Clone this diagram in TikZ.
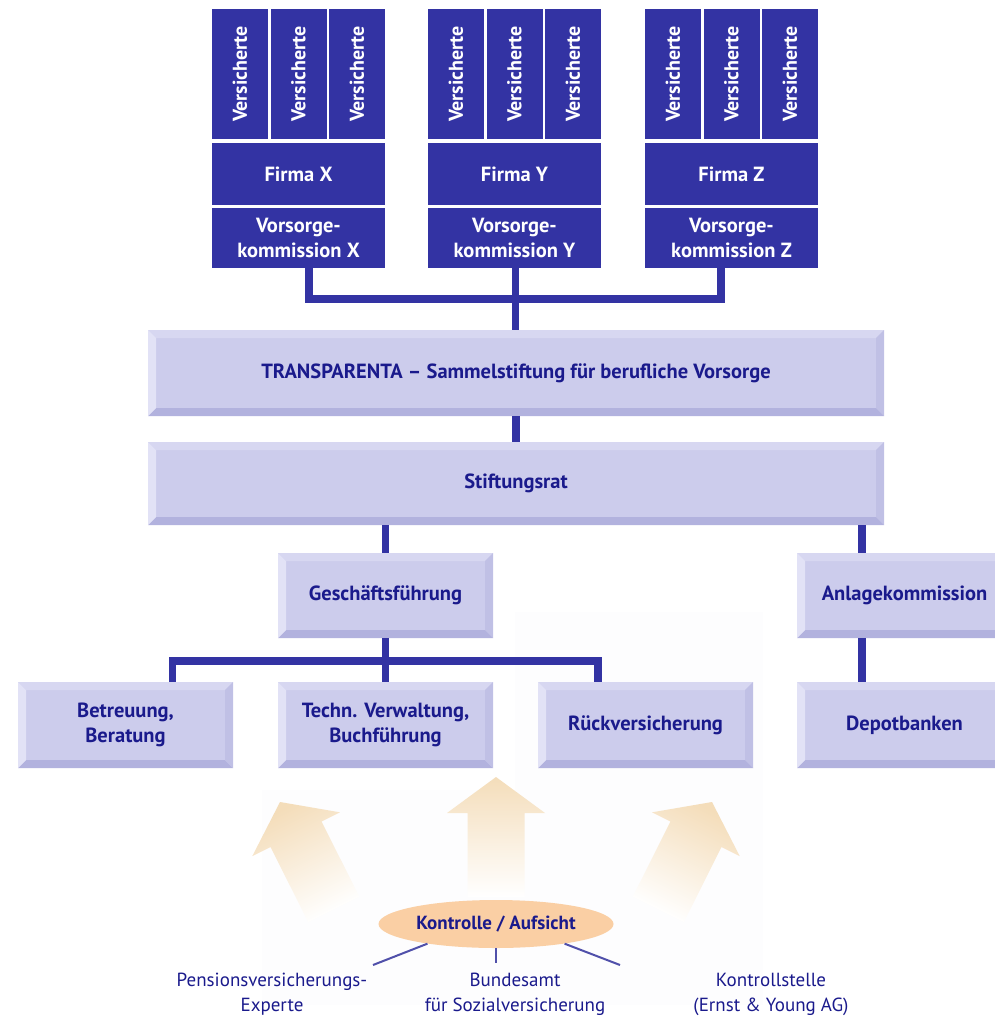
\documentclass[tikz,border=0pt]{standalone}
\usepackage{fontspec}
\usepackage{graphicx}
\setmainfont{PT Sans}
\usetikzlibrary{shapes.geometric}
\definecolor{dkc}{RGB}{51,51,163}
\definecolor{boxc}{RGB}{204,204,236}
\definecolor{bevT}{RGB}{215,215,241}
\definecolor{bevL}{RGB}{226,226,246}
\definecolor{bevR}{RGB}{192,192,229}
\definecolor{bevB}{RGB}{178,178,222}
\definecolor{txtc}{RGB}{26,26,140}
\definecolor{arrc}{RGB}{244,221,186}
\definecolor{ellc}{RGB}{250,207,164}
\definecolor{linc}{RGB}{80,80,170}
\definecolor{glowc}{RGB}{253,253,254}
\newcommand\bxfont{\fontsize{20.5}{25}\selectfont\bfseries}
\newcommand\vsfont{\fontsize{20}{22}\selectfont\bfseries}
\newcommand\lbfont{\fontsize{19}{25}\selectfont}
\begin{document}
\begin{tikzpicture}[x=1pt,y=-1pt,
  dcell/.style={fill=dkc, text=white, inner sep=0pt, align=center},
  lbox/.style={fill=boxc, text=txtc, inner sep=0pt, align=center,
    minimum width=215pt, minimum height=86pt, font=\bxfont,
    path picture={
      \coordinate (bsw) at (path picture bounding box.south west);
      \coordinate (bne) at (path picture bounding box.north east);
      \coordinate (bnw) at (path picture bounding box.north west);
      \coordinate (bse) at (path picture bounding box.south east);
      \fill[bevT] (bnw) -- (bne) -- ([shift={(-8pt,-8pt)}]bne) -- ([shift={(8pt,-8pt)}]bnw) -- cycle;
      \fill[bevB] (bsw) -- (bse) -- ([shift={(-8pt,8pt)}]bse) -- ([shift={(8pt,8pt)}]bsw) -- cycle;
      \fill[bevL] (bnw) -- ([shift={(8pt,-8pt)}]bnw) -- ([shift={(8pt,8pt)}]bsw) -- (bsw) -- cycle;
      \fill[bevR] (bne) -- ([shift={(-8pt,-8pt)}]bne) -- ([shift={(-8pt,8pt)}]bse) -- (bse) -- cycle;
    }},
  conn/.style={draw=dkc, line width=7.5pt},
  thin/.style={draw=linc, line width=2pt},
  lab/.style={text=txtc, font=\lbfont, align=center, inner sep=0pt, anchor=north},
  arrowsh/.style={top color=arrc, middle color=arrc!55!white, bottom color=white}
]
\useasboundingbox (0,0) rectangle (994,1019);
% faint glow background
\fill[glowc] (515,612) rectangle (763,1005);
\fill[glowc] (262,790) rectangle (763,1005);
% control arrows
\shade[arrowsh, shading angle=26.57] (280,802) -- (339.9,812.3) -- (321.6,821.5) -- (359.2,896.6) -- (308.2,922.1) -- (270.6,847.0) -- (252.3,856.1) -- cycle;
\shade[arrowsh, shading angle=-26.57] (712,802) -- (652.1,812.3) -- (670.4,821.5) -- (632.8,896.6) -- (683.8,922.1) -- (721.4,847.0) -- (739.7,856.1) -- cycle;
\shade[arrowsh] (496,777) -- (545,813) -- (524.5,813) -- (524.5,897) -- (467.5,897) -- (467.5,813) -- (447,813) -- cycle;
% top columns
\foreach \cn/\cx/\L in {X/212/x, Y/428/y, Z/645/z}{
  \node[dcell, minimum width=56pt, minimum height=130pt, font=\vsfont] (\L v1) at (\cx+28,74) {\rotatebox{90}{Versicherte}};
  \node[dcell, minimum width=56pt, minimum height=130pt, font=\vsfont] (\L v2) at (\cx+86.5,74) {\rotatebox{90}{Versicherte}};
  \node[dcell, minimum width=56pt, minimum height=130pt, font=\vsfont] (\L v3) at (\cx+145,74) {\rotatebox{90}{Versicherte}};
  \node[dcell, minimum width=173pt, minimum height=61pt, font=\bxfont] (\L f) at (\cx+86.5,174) {Firma \cn};
  \node[dcell, minimum width=173pt, minimum height=60pt, font=\bxfont] (\L k) at (\cx+86.5,238) {Vorsorge-\\kommission \cn};
}
% light boxes
\node[lbox, minimum width=736pt, minimum height=86pt] (trans) at (516,373) {TRANSPARENTA -- Sammelstiftung für berufliche Vorsorge};
\node[lbox, minimum width=736pt, minimum height=83pt] (stift) at (516,483.5) {Stiftungsrat};
\node[lbox, minimum height=85pt] (gf) at (385.5,595.5) {Geschäftsführung};
\node[lbox, minimum height=85pt] (anl) at (904.5,595.5) {Anlagekommission};
\node[lbox] (bet) at (125.5,725) {Betreuung,\\Beratung};
\node[lbox] (tech) at (385.5,725) {Techn. Verwaltung,\\Buchführung};
\node[lbox] (rue) at (645.5,725) {Rückversicherung};
\node[lbox] (dep) at (904.5,725) {Depotbanken};
% connectors
\coordinate (j1) at (515.5,299);
\coordinate (j2) at (385.5,661);
\draw[conn] ([xshift=10.5pt]xk.south) |- (j1) -| ([xshift=-10.5pt]zk.south);
\draw[conn] (j1 |- yk.south) -- (j1 |- trans.north);
\draw[conn] (trans.south) -- (stift.north);
\draw[conn] (gf.north |- stift.south) -- (gf.north);
\draw[conn] ([xshift=-42.5pt]anl.north |- stift.south) -- ([xshift=-42.5pt]anl.north);
\draw[conn] ([xshift=-42.5pt]anl.south) -- ([xshift=-42.5pt]dep.north);
\draw[conn] (gf.south) -- (tech.north);
\draw[conn] ([xshift=47pt]bet.north) |- (j2) -| ([xshift=-47.5pt]rue.north);
% control ellipse
\node[ellipse, fill=ellc, minimum width=235pt, minimum height=48pt, inner sep=0pt, text=txtc, font=\fontsize{19}{22}\selectfont\bfseries] (ell) at (496,924) {Kontrolle / Aufsicht};
\node[lab] (pens) at (272,973) {Pensionsversicherungs-\\Experte};
\node[lab] (bund) at (515,973) {Bundesamt\\für Sozialversicherung};
\node[lab] (kontr) at (771,973) {Kontrollstelle\\(Ernst \& Young AG)};
\coordinate (lp) at (373,965);
\coordinate (lb) at (496,963);
\coordinate (lk) at (620,965);
\draw[thin] (ell.196) -- (lp);
\draw[thin] (ell.south) -- (lb);
\draw[thin] (ell.344) -- (lk);
\end{tikzpicture}
\end{document}
